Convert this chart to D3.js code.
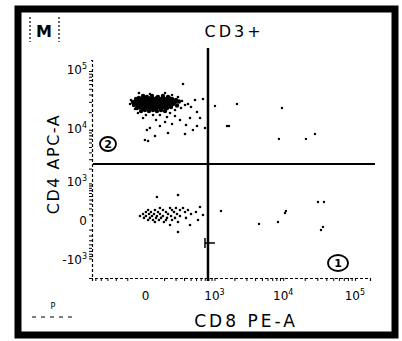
<!DOCTYPE html>
<html>
<head>
<meta charset="utf-8">
<script src="https://cdn.jsdelivr.net/npm/d3@7"></script>
<style>
  html, body { margin: 0; padding: 0; background: #fff; }
  svg { display: block; }
  text { font-family: "DejaVu Sans", sans-serif; fill: #000; }
</style>
</head>
<body>
<div id="chart"></div>
<script>
// CD3+ gated events, [CD8 PE-A, CD4 APC-A]
const cd4Core = [
  [-11, 37810], [5, 36370], [28, 37810], [60, 36370], [92, 37810], [130, 36370],
  [-45, 33640], [-30, 34980], [-16, 33640], [-3, 34980], [10, 33640], [23, 34980], [38, 33640],
  [54, 34980], [72, 33640], [92, 34980], [114, 33640], [138, 34980], [165, 33640], [204, 32330],
  [-63, 29930], [-45, 31090], [-30, 29930], [-16, 31090], [-3, 29930], [10, 31090], [23, 29930], [38, 31090],
  [54, 29930], [72, 31090], [92, 29930], [114, 31090], [138, 29930], [165, 31090], [194, 29930], [237, 30500],
  [-57, 26600], [-40, 27660], [-25, 26600], [-11, 27660], [1, 26600], [14, 27660], [28, 26600], [43, 27660],
  [60, 26600], [79, 27660], [99, 26600], [122, 27660], [147, 26600], [174, 27660], [215, 26000],
  [-40, 23660], [-25, 24590], [-11, 23660], [1, 24590], [14, 23660], [28, 24590], [43, 23660],
  [60, 24590], [79, 23660], [99, 24590], [122, 23660], [156, 24590],
  [-20, 21020], [-3, 21870], [14, 21020], [33, 21870], [54, 21020], [79, 21870], [107, 21020]
];
const cd4Spread = [
  [-30, 42490], [18, 40870], [107, 42490], [165, 39320], [226, 36370], [287, 60350],
  [-75, 32330], [-81, 27660], [274, 31090], [314, 26600], [261, 23660], [-51, 22740],
  [194, 21870], [147, 19430], [358, 27660], [407, 24590],
  [-35, 19430], [1, 17960], [33, 17960], [72, 17960], [122, 16610], [194, 17280],
  [-11, 15950], [49, 14760], [107, 13630], [249, 14760], [390, 15950], [519, 20210],
  [584, 15950], [5, 9920], [18, 10750], [130, 8810], [314, 8460], [706, 10750],
  [519, 11630], [-3, 6650], [10, 6380], [72, 11630], [165, 12590], [328, 12110],
  [441, 9920], [43, 7810], [655, 33640], [479, 32330]
];
const doublePos = [
  [1019, 25580], [2185, 27660], [9610, 23660], [1554, 11630], [1664, 11630],
  [8710, 6930], [20810, 6930], [27800, 8460]
];
const doubleNeg = [
  [54, 474], [226, 535],
  [72, 209], [147, 209], [204, 209], [287, 209],
  [10, 171], [43, 171], [92, 171], [165, 171], [249, 171], [358, 171],
  [1, 137], [23, 137], [60, 137], [114, 137], [184, 137], [314, 137],
  [-11, 105], [14, 105], [38, 105], [72, 105], [130, 105], [215, 105], [407, 105],
  [-25, 76], [1, 76], [28, 76], [54, 76], [92, 76], [156, 76], [249, 76],
  [-7, 49], [18, 49], [49, 49], [79, 49], [122, 49], [194, 49], [328, 49],
  [10, 23], [33, 23], [66, 23], [114, 23], [165, 23],
  [43, 0], [99, 0], [226, 0],
  [147, -36], [390, -36], [226, -137],
  [584, 228], [655, 90], [540, 23], [498, 137]
];
const cd8Pos = [
  [1261, 154], [4542, -23], [8440, 0], [10590, 121], [10930, 154],
  [30630, 339], [37100, 339], [35950, -62], [33730, -105]
];

// quadrant gate thresholds
const gateCD8 = 790;
const gateCD4 = 2450;

const xTicks = [0, 1e3, 1e4, 1e5];
const xTickLabels = ["0", "10|3", "10|4", "10|5"];
const yTicks = [-1e3, 0, 1e3, 1e4, 1e5];
const yTickLabels = ["-10|3", "0", "10|3", "10|4", "10|5"];

const title = "CD3+";
const xTitle = "CD8 PE-A";
const yTitle = "CD4 APC-A";

const width = 402, height = 341;

const svg = d3.select("#chart").append("svg")
  .attr("width", width)
  .attr("height", height);

const x = d3.scaleSymlog().constant(125).domain([-570, 162000]).range([92, 370]);
const y = d3.scaleSymlog().constant(290).domain([-2250, 153000]).range([278, 60]);

// minor ticks (log decades + linear zone)
const minor = [];
for (let v = 100; v < 1000; v += 100) { minor.push(v, -v); }
[1e3, 1e4].forEach(d => { for (let k = 1; k < 10; k++) minor.push(k * d); });
minor.push(1e5);

// outer frame
svg.append("rect")
  .attr("x", 18).attr("y", 9)
  .attr("width", 377).attr("height", 326)
  .attr("fill", "none")
  .attr("stroke", "#000")
  .attr("stroke-width", 7);

// axes
const gx = svg.append("g")
  .attr("transform", `translate(0,${y.range()[0]})`)
  .call(d3.axisBottom(x).tickValues(minor.filter(v => v > x.domain()[0])).tickSize(3).tickFormat(""));
const gy = svg.append("g")
  .attr("transform", `translate(${x.range()[0]},0)`)
  .call(d3.axisLeft(y).tickValues(minor.filter(v => v > y.domain()[0])).tickSize(3).tickFormat(""));
[gx, gy].forEach(g => {
  g.select(".domain").attr("stroke-dasharray", "3,2").attr("stroke-width", 1.2);
  g.selectAll(".tick line").attr("stroke-width", 1);
});

const supLabel = (sel, s) => {
  const [base, sup] = s.split("|");
  sel.append("tspan").text(base);
  if (sup) sel.append("tspan").attr("dy", -5).attr("font-size", 8).text(sup);
};

svg.append("g").selectAll("text")
  .data(xTicks)
  .join("text")
  .attr("x", d => x(d))
  .attr("y", 300)
  .attr("text-anchor", "middle")
  .attr("font-size", 12)
  .each(function (d, i) { supLabel(d3.select(this), xTickLabels[i]); });

svg.append("g").selectAll("text")
  .data(yTicks)
  .join("text")
  .attr("x", 87)
  .attr("y", d => y(d) + 3)
  .attr("text-anchor", "end")
  .attr("font-size", 12)
  .each(function (d, i) { supLabel(d3.select(this), yTickLabels[i]); });

// quadrant gate
svg.append("line")
  .attr("x1", x(gateCD8)).attr("x2", x(gateCD8))
  .attr("y1", 48).attr("y2", 281)
  .attr("stroke", "#000").attr("stroke-width", 2.5);
svg.append("line")
  .attr("x1", 93).attr("x2", 375)
  .attr("y1", y(gateCD4)).attr("y2", y(gateCD4))
  .attr("stroke", "#000").attr("stroke-width", 2);
svg.append("path")
  .attr("d", `M${x(gateCD8) - 3},238 v10 M${x(gateCD8) - 3},243 h10`)
  .attr("stroke", "#000").attr("stroke-width", 1.5).attr("fill", "none");

// events
const dots = (data, r) => svg.append("g").selectAll("circle")
  .data(data)
  .join("circle")
  .attr("cx", d => x(d[0]))
  .attr("cy", d => y(d[1]))
  .attr("r", r)
  .attr("fill", "#000");
dots(cd4Core, 2.2);
dots(cd4Spread, 1.3);
dots(doublePos, 1.2);
dots(doubleNeg, 1.3);
dots(cd8Pos, 1.2);

// quadrant numbers
const quads = [{ n: "2", cx: 108, cy: 144, rx: 8, ry: 7 }, { n: "1", cx: 338, cy: 263, rx: 10, ry: 8 }];
quads.forEach(q => {
  svg.append("ellipse")
    .attr("cx", q.cx).attr("cy", q.cy).attr("rx", q.rx).attr("ry", q.ry)
    .attr("fill", "none").attr("stroke", "#000").attr("stroke-width", 1.8);
  svg.append("text")
    .attr("x", q.cx).attr("y", q.cy + 4)
    .attr("text-anchor", "middle").attr("font-size", 11).attr("font-weight", "bold")
    .text(q.n);
});

// titles
svg.append("text")
  .attr("x", 234).attr("y", 37)
  .attr("text-anchor", "middle")
  .attr("font-size", 16).attr("letter-spacing", 3)
  .text(title);
svg.append("text")
  .attr("x", 246).attr("y", 327)
  .attr("text-anchor", "middle")
  .attr("font-size", 17).attr("letter-spacing", 3)
  .text(xTitle);
svg.append("text")
  .attr("transform", "translate(59,164) rotate(-90)")
  .attr("text-anchor", "middle")
  .attr("font-size", 16).attr("letter-spacing", 1.5)
  .text(yTitle);

// "M" marker box
svg.append("text")
  .attr("x", 44).attr("y", 37)
  .attr("text-anchor", "middle")
  .attr("font-size", 16).attr("font-weight", "bold")
  .text("M");
svg.append("path")
  .attr("d", "M30,17 V42 M59,17 V42")
  .attr("stroke", "#000").attr("stroke-width", 1.2).attr("stroke-dasharray", "2,2");

// "P" note bottom-left
svg.append("text")
  .attr("x", 53).attr("y", 309)
  .attr("text-anchor", "middle")
  .attr("font-size", 8)
  .text("P");
svg.append("line")
  .attr("x1", 32).attr("x2", 76).attr("y1", 317).attr("y2", 317)
  .attr("stroke", "#000").attr("stroke-width", 1).attr("stroke-dasharray", "4,5");
</script>
</body>
</html>
